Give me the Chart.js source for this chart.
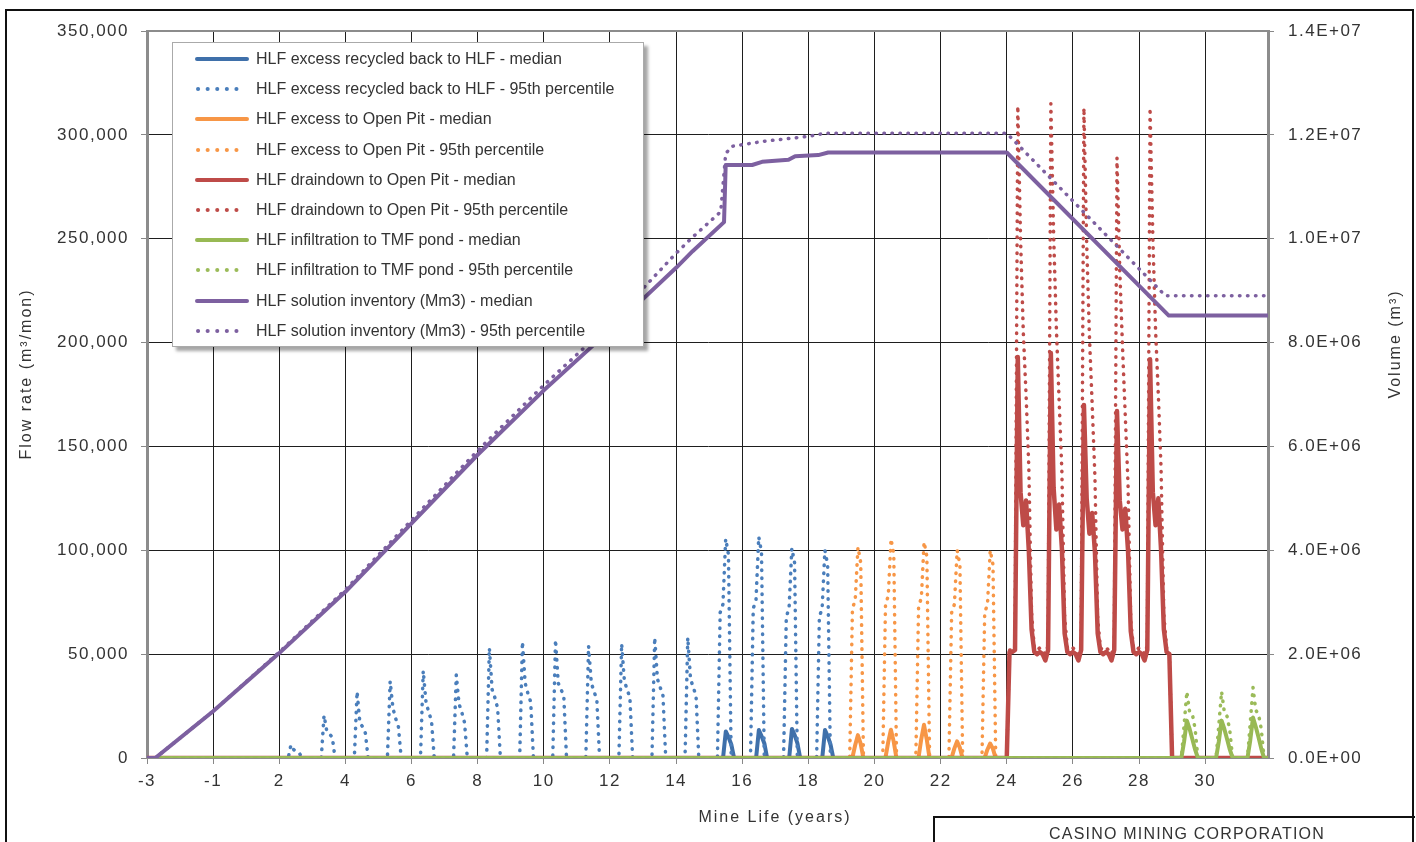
<!DOCTYPE html>
<html>
<head>
<meta charset="utf-8">
<title>HLF flows and solution inventory</title>
<script src="https://cdn.jsdelivr.net/npm/chart.js@4.4.0/dist/chart.umd.min.js"></script>
<style>
    html, body { margin: 0; padding: 0; background: #fff; }
    body { width: 1416px; height: 842px; overflow: hidden; position: relative;
           font-family: 'Liberation Sans', Arial, sans-serif; color: #333; }
    #wrap { position: absolute; left: 0; top: 0; width: 1416px; height: 842px; }
    #frame { position: absolute; left: 5px; top: 9px; width: 1409px; height: 900px;
             border: 2px solid #111; box-sizing: border-box; pointer-events: none; }
    #legend { position: absolute; left: 172px; top: 42px; width: 472px; height: 305px;
              box-sizing: border-box; background: #fff; border: 1px solid #aaa;
              box-shadow: 4px 4px 3px rgba(0, 0, 0, 0.35); padding-top: 1px; }
    .row { height: 30.2px; display: flex; align-items: center; font-size: 16px; white-space: nowrap; }
    .row svg { margin-left: 21px; margin-right: 6px; flex: none; }
    #corp { position: absolute; left: 933px; top: 816px; width: 482px; height: 40px;
            box-sizing: border-box; border-top: 2px solid #111; border-left: 2px solid #111;
            text-align: center; font-size: 16px; letter-spacing: 1.2px; padding: 7px 0 0 24px; }
</style>
</head>
<body>
<div id="wrap"><canvas id="flowChart"></canvas></div>
<div id="frame"></div>
<div id="legend"></div>
<div id="corp">CASINO MINING CORPORATION</div>

<script>
// x axis: tick positions and the labels printed under them
const xTickPos = [-2, 0, 2, 4, 6, 8, 10, 12, 14, 16, 18, 20, 22, 24, 26, 28, 30];
const xTickLabels = ['-3', '-1', '2', '4', '6', '8', '10', '12', '14', '16', '18', '20', '22', '24', '26', '28', '30'];

const seriesNames = [
    'HLF excess recycled back to HLF - median',
    'HLF excess recycled back to HLF - 95th percentile',
    'HLF excess to Open Pit - median',
    'HLF excess to Open Pit - 95th percentile',
    'HLF draindown to Open Pit - median',
    'HLF draindown to Open Pit - 95th percentile',
    'HLF infiltration to TMF pond - median',
    'HLF infiltration to TMF pond - 95th percentile',
    'HLF solution inventory (Mm3) - median',
    'HLF solution inventory (Mm3) - 95th percentile'
];
const seriesColors = ['#3f70aa', '#4a7ebb', '#f79646', '#f79646', '#be4b48', '#be4b48',
                      '#98b954', '#9bbb59', '#7d60a0', '#7d60a0'];

// flow spikes (m3/mon): [first month position, monthly values]
const blueMedianSpikes = [
    [15.42, [0, 12800, 10000, 6500, 0]],
    [16.42, [0, 13500, 10500, 7000, 0]],
    [17.42, [0, 14000, 11000, 7000, 0]],
    [18.42, [0, 13500, 10500, 6500, 0]]
];
const blue95Spikes = [
    [2.27, [0, 6300, 4000, 3200, 2500, 0]],
    [3.27, [0, 20500, 13000, 11500, 10000, 0]],
    [4.27, [0, 32000, 17000, 15000, 12000, 0]],
    [5.27, [0, 37000, 24000, 19000, 15000, 0]],
    [6.27, [0, 42000, 27000, 22000, 18000, 0]],
    [7.27, [0, 40000, 26000, 22000, 17000, 0]],
    [8.27, [0, 53000, 33000, 29000, 24000, 0]],
    [9.27, [0, 56000, 36000, 31000, 27000, 0]],
    [10.27, [0, 57000, 36000, 33000, 30000, 0]],
    [11.27, [0, 54000, 36000, 32000, 28000, 0]],
    [12.27, [0, 55000, 37000, 33000, 29000, 0]],
    [13.27, [0, 58000, 38000, 34000, 30000, 0]],
    [14.27, [0, 58000, 38000, 34000, 30000, 0]],
    [15.25, [0, 70000, 74000, 105500, 98000, 0]],
    [16.25, [0, 72000, 76000, 106500, 99000, 0]],
    [17.25, [0, 68000, 72000, 101000, 94000, 0]],
    [18.25, [0, 68000, 72000, 100000, 93000, 0]]
];
const orangeMedianSpikes = [
    [19.33, [0, 6000, 11000, 7000, 0]],
    [20.33, [0, 7500, 13600, 8000, 0]],
    [21.33, [0, 9000, 16000, 9000, 0]],
    [22.33, [0, 4500, 8000, 5000, 0]],
    [23.33, [0, 4000, 7000, 4500, 0]]
];
const orange95Spikes = [
    [19.25, [0, 72000, 76000, 101500, 94000, 0]],
    [20.25, [0, 74000, 78000, 105500, 98000, 0]],
    [21.25, [0, 73000, 77000, 104000, 97000, 0]],
    [22.25, [0, 70000, 74000, 100000, 93000, 0]],
    [23.25, [0, 70000, 74000, 100000, 93000, 0]]
];
// draindown: monthly values from year 24
const redMedianMonthly = [
    0,
    51000, 51000, 52000, 193000, 128000, 112000, 124000, 100000, 62000, 51000, 50000,
    51000, 50000, 47000, 52000, 195000, 130000, 110000, 122000, 101000, 60000, 51000, 50000,
    51000, 50000, 47000, 52000, 170000, 125000, 108000, 118000, 99000, 60000, 51000, 50000,
    51000, 50000, 47000, 52000, 167000, 124000, 110000, 120000, 100000, 61000, 51000, 50000,
    51000, 50000, 47000, 52000, 192000, 128000, 112000, 125000, 100000, 62000, 51000, 50000,
    0
];
const red95Monthly = [
    0,
    52000, 52000, 54000, 314000, 250000, 205000, 175000, 140000, 70000, 53000, 52000,
    53000, 52000, 50000, 54000, 315000, 252000, 207000, 172000, 138000, 68000, 53000, 52000,
    53000, 52000, 50000, 54000, 313000, 248000, 203000, 170000, 135000, 67000, 53000, 52000,
    53000, 52000, 50000, 54000, 289000, 235000, 198000, 165000, 132000, 66000, 53000, 52000,
    53000, 52000, 50000, 54000, 313000, 251000, 206000, 175000, 139000, 69000, 53000, 52000,
    0
];
const greenMedianSpikes = [
    [29.28, [0, 8000, 18000, 14000, 9000, 4000, 0]],
    [30.33, [0, 8000, 18000, 14000, 9000, 4000, 0]],
    [31.28, [0, 8500, 19500, 15000, 10000, 4500, 0]]
];
const green95Spikes = [
    [29.28, [0, 16000, 32000, 22000, 21000, 14000, 0]],
    [30.33, [0, 16000, 32000, 22000, 20000, 13000, 0]],
    [31.28, [0, 17000, 34000, 23000, 21000, 14000, 0]]
];

// solution inventory (m3, right axis)
const invMedianX = [-2, -1.75, 0, 2, 4, 6, 8, 10, 12, 14, 14.5, 15.45, 15.5, 16.3, 16.6, 17.4, 17.6, 18.3, 18.6, 24.0, 28.9, 31.9];
const invMedianY = [0, 0, 0.9e6, 2.02e6, 3.2e6, 4.52e6, 5.84e6, 7.08e6, 8.24e6, 9.44e6, 9.76e6, 1.032e7,
                    1.142e7, 1.142e7, 1.148e7, 1.152e7, 1.159e7, 1.161e7, 1.166e7, 1.166e7, 8.52e6, 8.52e6];
const inv95X = [-2, -1.75, 0, 2, 4, 6, 8, 10, 12, 14, 14.5, 15.35, 15.5, 15.7, 16.7, 18.0, 18.5, 24.0, 28.8, 31.9];
const inv95Y = [0, 0, 0.9e6, 2.04e6, 3.24e6, 4.58e6, 5.92e6, 7.18e6, 8.36e6, 9.72e6, 1.003e7, 1.052e7,
                1.164e7, 1.178e7, 1.188e7, 1.197e7, 1.203e7, 1.203e7, 8.9e6, 8.9e6];

function spikePoints(spikes) {
    const pts = [{ x: -2, y: 0 }];
    spikes.forEach(([start, vals]) => {
        vals.forEach((v, i) => pts.push({ x: start + i / 12, y: v }));
    });
    pts.push({ x: 31.9, y: 0 });
    return pts;
}

function xyPoints(xs, ys) {
    return xs.map((x, i) => ({ x: x, y: ys[i] }));
}

function fmtExp(v) {
    const parts = Number(v).toExponential(1).split('e');
    const e = parseInt(parts[1], 10);
    return parts[0] + 'E' + (e < 0 ? '-' : '+') + String(Math.abs(e)).padStart(2, '0');
}

function makeSet(i, data, axis) {
    const dotted = i % 2 === 1;
    return {
        label: seriesNames[i],
        data: data,
        yAxisID: axis,
        borderColor: seriesColors[i],
        backgroundColor: seriesColors[i],
        borderWidth: dotted ? 3.5 : (i === 4 ? 4.5 : 4),
        borderDash: dotted ? [0.5, 7.5] : [],
        borderCapStyle: 'round',
        borderJoinStyle: 'round',
        pointRadius: 0,
        tension: 0,
        fill: false,
        order: 10 - i
    };
}

// html legend inside the plot
const legendBox = document.getElementById('legend');
seriesNames.forEach((name, i) => {
    const dotted = i % 2 === 1;
    const row = document.createElement('div');
    row.className = 'row';
    row.innerHTML = `
        <svg width="56" height="8">
            <line x1="${dotted ? 4 : 3}" y1="4" x2="${dotted ? 52 : 53}" y2="4"
                  stroke="${seriesColors[i]}" stroke-width="4" stroke-linecap="round"
                  ${dotted ? 'stroke-dasharray="0.1 9.5"' : ''}/>
        </svg><span>${name}</span>`;
    legendBox.appendChild(row);
});

// wider axis text like the original
const spacing = {
    id: 'spacing',
    beforeUpdate(chart) { chart.ctx.letterSpacing = '1.5px'; },
    beforeDraw(chart) { chart.ctx.letterSpacing = '1.5px'; }
};

// top frame line and axis titles
const frameAndTitles = {
    id: 'frameAndTitles',
    afterDraw(chart) {
        const ctx = chart.ctx;
        const a = chart.chartArea;
        ctx.save();
        ctx.strokeStyle = '#8c8c8c';
        ctx.lineWidth = 2;
        ctx.beginPath();
        ctx.moveTo(a.left - 1, a.top);
        ctx.lineTo(a.right + 1, a.top);
        ctx.stroke();

        ctx.letterSpacing = '2px';
        ctx.font = "16px 'Liberation Sans', Arial, sans-serif";
        ctx.fillStyle = '#333';
        ctx.textAlign = 'center';
        ctx.textBaseline = 'middle';
        ctx.fillText('Mine Life (years)', 775, 818);

        ctx.save();
        ctx.translate(27, 374);
        ctx.rotate(-Math.PI / 2);
        ctx.fillText('Flow rate (m³/mon)', 0, 0);
        ctx.restore();

        ctx.save();
        ctx.translate(1396, 344);
        ctx.rotate(-Math.PI / 2);
        ctx.fillText('Volume (m³)', 0, 0);
        ctx.restore();
        ctx.restore();
    }
};

Chart.defaults.font.family = "'Liberation Sans', Arial, sans-serif";
Chart.defaults.font.size = 17;
Chart.defaults.color = '#333';

const gridColor = '#1e1e1e';
const axisGray = '#8c8c8c';

new Chart(document.getElementById('flowChart'), {
    type: 'line',
    data: {
        datasets: [
            makeSet(0, spikePoints(blueMedianSpikes), 'y'),
            makeSet(1, spikePoints(blue95Spikes), 'y'),
            makeSet(2, spikePoints(orangeMedianSpikes), 'y'),
            makeSet(3, spikePoints(orange95Spikes), 'y'),
            makeSet(4, spikePoints([[24.0, redMedianMonthly]]), 'y'),
            makeSet(5, spikePoints([[24.0, red95Monthly]]), 'y'),
            makeSet(6, spikePoints(greenMedianSpikes), 'y'),
            makeSet(7, spikePoints(green95Spikes), 'y'),
            makeSet(8, xyPoints(invMedianX, invMedianY), 'y1'),
            makeSet(9, xyPoints(inv95X, inv95Y), 'y1')
        ]
    },
    options: {
        responsive: true,
        maintainAspectRatio: false,
        animation: false,
        devicePixelRatio: 1,
        layout: { padding: { top: 31, left: 0, right: 0, bottom: 0 } },
        plugins: {
            legend: { display: false },
            tooltip: { enabled: false }
        },
        scales: {
            x: {
                type: 'linear',
                min: -2,
                max: 31.9,
                bounds: 'data',
                afterBuildTicks: function(scale) {
                    scale.ticks = xTickPos.map(v => ({ value: v }));
                },
                afterFit: function(scale) { scale.height = 84; },
                grid: { color: gridColor, lineWidth: 1, tickLength: 6, tickColor: '#888' },
                border: { color: axisGray, width: 2 },
                ticks: {
                    autoSkip: false,
                    maxRotation: 0,
                    padding: 7,
                    callback: function(value) {
                        const i = xTickPos.indexOf(value);
                        return i >= 0 ? xTickLabels[i] : '';
                    }
                }
            },
            y: {
                position: 'left',
                min: 0,
                max: 350000,
                afterFit: function(scale) { scale.width = 147; },
                grid: { color: gridColor, lineWidth: 1, tickLength: 6, tickColor: '#888' },
                border: { color: axisGray, width: 3 },
                ticks: {
                    stepSize: 50000,
                    padding: 12,
                    callback: value => value.toLocaleString('en-US')
                }
            },
            y1: {
                position: 'right',
                min: 0,
                max: 1.4e7,
                afterFit: function(scale) { scale.width = 148; },
                grid: { drawOnChartArea: false, tickLength: 6, tickColor: '#888' },
                border: { color: axisGray, width: 3 },
                ticks: {
                    stepSize: 2e6,
                    padding: 14,
                    callback: value => fmtExp(value)
                }
            }
        }
    },
    plugins: [spacing, frameAndTitles]
});
</script>
</body>
</html>
